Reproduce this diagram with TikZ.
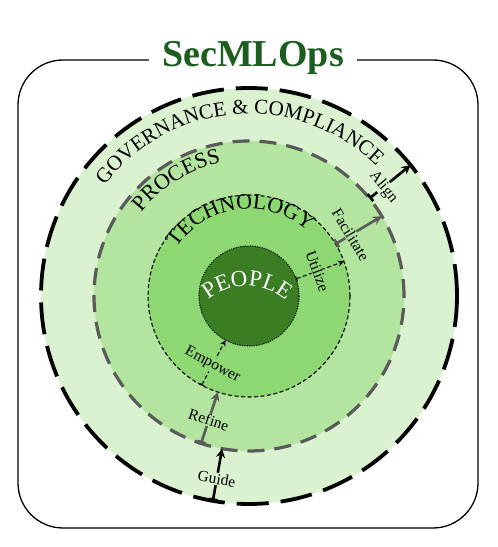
\documentclass[tikz,border=0pt]{standalone}
\usepackage{fontspec}
\setmainfont{Liberation Serif}
\usetikzlibrary{arrows.meta,decorations.text,calc}
\definecolor{govfill}{HTML}{DAF2D0}
\definecolor{procfill}{HTML}{B3E4A0}
\definecolor{techfill}{HTML}{8ED873}
\definecolor{peoplefill}{HTML}{3A7D22}
\definecolor{titlegreen}{HTML}{1D5E20}
\definecolor{procline}{HTML}{5A5A5A}
\newcommand\govfont{\fontsize{21}{21}\selectfont}
\newcommand\ringfont{\fontsize{22}{22}\selectfont}
\newcommand\peoplefont{\fontsize{23}{23}\selectfont}
\newcommand\labfont{\fontsize{15.5}{15.5}\selectfont}
\begin{document}
\begin{tikzpicture}[x=1pt,y=1pt,
  ring/.style={circle, inner sep=0pt, outer sep=0pt},
  govring/.style={ring, fill=govfill, draw=black, line width=3.8pt, dash pattern=on 32pt off 12pt, minimum size=416pt},
  procring/.style={ring, fill=procfill, draw=procline, line width=3.2pt, dash pattern=on 17pt off 10pt, minimum size=310pt},
  techring/.style={ring, fill=techfill, draw=black, line width=1.1pt, dash pattern=on 4pt off 2.5pt, minimum size=202pt},
  peoplering/.style={ring, fill=peoplefill, draw=black, line width=1.5pt, line cap=round, dash pattern=on 0.01pt off 2.4pt, minimum size=100pt},
  arrowA/.style={draw=black, line width=2.6pt, {Bar[width=9pt]}-{Stealth[length=9pt,width=9pt]}},
  arrowB/.style={draw=procline, line width=2.6pt, {Bar[width=9pt]}-{Stealth[length=9pt,width=9pt]}},
  arrowC/.style={draw=black, line width=1.1pt, dash pattern=on 4pt off 2.5pt, {Bar[width=5pt]}-{Stealth[length=6pt,width=6pt]}},
  lab/.style={font=\labfont, inner sep=0.8pt},
  titlebox/.style={font=\fontsize{38}{38}\selectfont\bfseries, text=titlegreen, fill=white, inner xsep=13pt, inner ysep=2pt, anchor=base}
]
\useasboundingbox (0,0) rectangle (498,547);
\coordinate (C) at (249,251);
% frame
\draw[line width=1.3pt, rounded corners=45pt] (18,19) rectangle (478,487);
\node[titlebox] (title) at (253,480) {SecMLOps};
% rings
\node[govring] (gov) at (C) {};
\node[procring] (proc) at (C) {};
\node[techring] (tech) at (C) {};
\node[peoplering] (people) at (C) {};
% ring titles
\path[decorate, decoration={text along path, text align=center, text={|\govfont|GOVERNANCE {\&} COMPLIANCE}}]
  ($(C)+(172:182)$) arc[start angle=172, end angle=16, radius=182];
\path[decorate, decoration={text along path, text align=center, text={|\ringfont|PROCESS}}]
  ($(C)+(160:136)$) arc[start angle=160, end angle=84, radius=136];
\path[decorate, decoration={text along path, text align=center, text={|\ringfont|TECHNOLOGY}}]
  ($(C)+(170:87)$) arc[start angle=170, end angle=24, radius=87];
\path[decorate, decoration={text along path, text align=center, text={|\color{white}\peoplefont|PEOPLE}}]
  ($(C)+(-2,-50)+(160:60)$) arc[start angle=160, end angle=20, radius=60];
% connectors
\draw[arrowA] (proc.39) -- (gov.39) node[lab, fill=govfill, pos=0.34, rotate=-51] {Align};
\draw[arrowA] (gov.260) -- (proc.260) node[lab, fill=govfill, pos=0.42, rotate=-10] {Guide};
\draw[arrowB] (tech.31) -- (proc.31) node[lab, fill=procfill, pos=0.33, rotate=-59] {Facilitate};
\draw[arrowB] (proc.252) -- (tech.252) node[lab, fill=procfill, pos=0.46, rotate=-18] {Refine};
\draw[arrowC] (people.20) -- (tech.20) node[lab, fill=techfill, pos=0.45, rotate=-70] {Utilize};
\draw[arrowC] (tech.242) -- (people.242) node[lab, fill=techfill, pos=0.45, rotate=-28] {Empower};
\end{tikzpicture}
\end{document}
